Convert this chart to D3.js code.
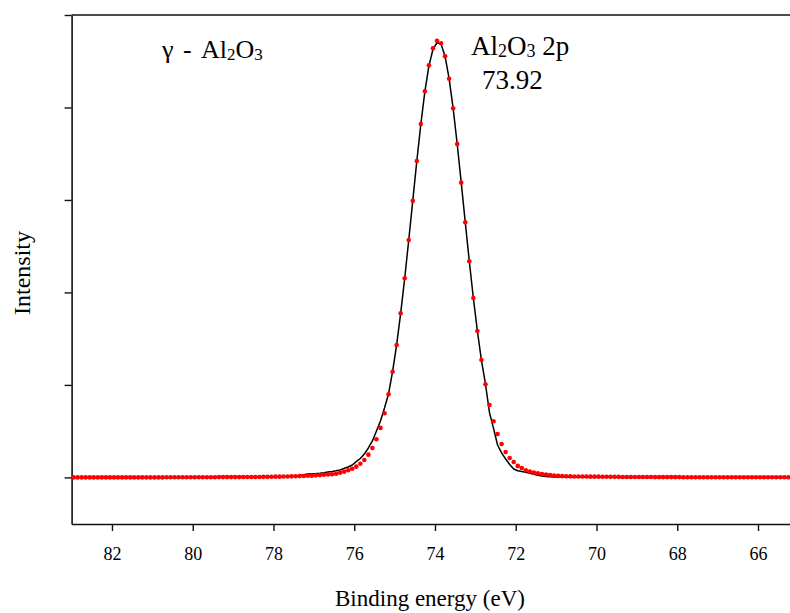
<!DOCTYPE html>
<html>
<head>
<meta charset="utf-8">
<script src="https://cdn.jsdelivr.net/npm/d3@7"></script>
<style>
  html, body { margin: 0; padding: 0; background: #fff; }
  svg { display: block; }
</style>
</head>
<body>
<svg id="chart" width="790" height="613"></svg>
<script>
// Binding energies of the measured points (eV), 0.1 eV steps
const energies = [
  82.95, 82.85, 82.75, 82.65, 82.55, 82.45, 82.35, 82.25, 82.15, 82.05,
  81.95, 81.85, 81.75, 81.65, 81.55, 81.45, 81.35, 81.25, 81.15, 81.05,
  80.95, 80.85, 80.75, 80.65, 80.55, 80.45, 80.35, 80.25, 80.15, 80.05,
  79.95, 79.85, 79.75, 79.65, 79.55, 79.45, 79.35, 79.25, 79.15, 79.05,
  78.95, 78.85, 78.75, 78.65, 78.55, 78.45, 78.35, 78.25, 78.15, 78.05,
  77.95, 77.85, 77.75, 77.65, 77.55, 77.45, 77.35, 77.25, 77.15, 77.05,
  76.95, 76.85, 76.75, 76.65, 76.55, 76.45, 76.35, 76.25, 76.15, 76.05,
  75.95, 75.85, 75.75, 75.65, 75.55, 75.45, 75.35, 75.25, 75.15, 75.05,
  74.95, 74.85, 74.75, 74.65, 74.55, 74.45, 74.35, 74.25, 74.15, 74.05,
  73.95, 73.85, 73.75, 73.65, 73.55, 73.45, 73.35, 73.25, 73.15, 73.05,
  72.95, 72.85, 72.75, 72.65, 72.55, 72.45, 72.35, 72.25, 72.15, 72.05,
  71.95, 71.85, 71.75, 71.65, 71.55, 71.45, 71.35, 71.25, 71.15, 71.05,
  70.95, 70.85, 70.75, 70.65, 70.55, 70.45, 70.35, 70.25, 70.15, 70.05,
  69.95, 69.85, 69.75, 69.65, 69.55, 69.45, 69.35, 69.25, 69.15, 69.05,
  68.95, 68.85, 68.75, 68.65, 68.55, 68.45, 68.35, 68.25, 68.15, 68.05,
  67.95, 67.85, 67.75, 67.65, 67.55, 67.45, 67.35, 67.25, 67.15, 67.05,
  66.95, 66.85, 66.75, 66.65, 66.55, 66.45, 66.35, 66.25, 66.15, 66.05,
  65.95, 65.85, 65.75, 65.65, 65.55, 65.45, 65.35, 65.25
];

// Measured Al 2p intensity (arbitrary units, background removed)
const measured = [
  0, 0, 0, 0, 0, 0, 0, 0, 0, 0,
  0, 0, 0, 0, 0, 0, 0, 0, 0, 0,
  0, 0, 0, 1, 1, 1, 1, 1, 1, 1,
  2, 2, 2, 2, 2, 2, 3, 3, 3, 3,
  3, 3, 4, 4, 4, 5, 5, 6, 6, 7,
  8, 8, 9, 10, 11, 13, 14, 15, 17, 19,
  22, 25, 28, 31, 34, 40, 51, 62, 77, 94,
  116, 148, 188, 246, 318, 412, 535, 694, 899, 1143,
  1432, 1774, 2153, 2567, 2992, 3421, 3821, 4175, 4456, 4640,
  4722, 4694, 4553, 4311, 3991, 3605, 3187, 2758, 2337, 1940,
  1583, 1269, 1007, 783, 607, 469, 361, 275, 210, 167,
  124, 102, 78, 63, 52, 44, 37, 31, 26, 21,
  16, 14, 12, 11, 10, 10, 9, 9, 8, 8,
  8, 7, 7, 6, 6, 6, 5, 5, 5, 4,
  4, 4, 4, 4, 3, 3, 3, 3, 3, 3,
  3, 2, 2, 2, 2, 2, 2, 2, 2, 2,
  2, 2, 1, 1, 1, 1, 1, 1, 1, 1,
  1, 1, 1, 1, 1, 1, 1, 1
];

// Fitted peak envelope on the same energy grid
const fitted = [
  0, 0, 0, 0, 0, 0, 0, 0, 0, 0,
  0, 0, 0, 0, 0, 0, 0, 0, 0, 0,
  0, 0, 0, 0, 0, 0, 0, 0, 0, 0,
  1, 1, 1, 1, 1, 1, 1, 1, 1, 1,
  1, 1, 2, 2, 2, 3, 3, 3, 4, 4,
  4, 5, 6, 9, 12, 15, 21, 30, 37, 39,
  41, 44, 50, 58, 64, 71, 80, 98, 112, 134,
  170, 204, 253, 318, 394, 502, 610, 750, 905, 1143,
  1432, 1774, 2153, 2567, 2992, 3421, 3821, 4175, 4450, 4630,
  4700, 4685, 4553, 4311, 3991, 3605, 3187, 2758, 2337, 1940,
  1583, 1269, 1010, 700, 530, 350, 265, 199, 140, 90,
  72, 64, 55, 44, 33, 22, 15, 10, 7, 5,
  4, 3, 3, 2, 2, 2, 1, 1, 1, 1,
  1, 1, 1, 1, 1, 0, 0, 0, 0, 0,
  0, 0, 0, 0, 0, 0, 0, 0, 0, 0,
  0, 0, 0, 0, 0, 0, 0, 0, 0, 0,
  0, 0, 0, 0, 0, 0, 0, 0, 0, 0,
  0, 0, 0, 0, 0, 0, 0, 0
];

const xTicks = [82, 80, 78, 76, 74, 72, 70, 68, 66];
const yTicks = [0, 1000, 2000, 3000, 4000, 5000];

const serif = "font-family: 'Liberation Serif', 'Times New Roman', Times, serif;";

const svg = d3.select("#chart");

// Reversed binding-energy axis, running off the right edge
const x = d3.scaleLinear().domain([83, 65.2]).range([71.6, 790.3]);
const y = d3.scaleLinear().domain([-504, 5000]).range([524, 15]);

const axisColor = "#111";

// Bottom axis
const gx = svg.append("g")
  .attr("transform", `translate(0,${y(-504)})`)
  .call(d3.axisBottom(x).tickValues(xTicks).tickSize(7).tickSizeOuter(0).tickPadding(16)
    .tickFormat(d3.format("d")))
  .attr("font-family", null);
gx.select(".domain").attr("stroke", axisColor).attr("stroke-width", 1.6);
gx.selectAll(".tick line").attr("stroke", axisColor).attr("stroke-width", 1.4);
gx.selectAll(".tick text")
  .attr("style", serif + " font-size: 18px;")
  .attr("fill", "#000");

// Left axis (unlabelled intensity ticks)
const gy = svg.append("g")
  .attr("transform", `translate(${x(83)},0)`)
  .call(d3.axisLeft(y).tickValues(yTicks).tickSize(7).tickSizeOuter(0).tickFormat(""));
gy.select(".domain").attr("stroke", axisColor).attr("stroke-width", 1.6);
gy.selectAll(".tick line").attr("stroke", axisColor).attr("stroke-width", 1.4);

// Top frame line
svg.append("line")
  .attr("x1", x(83)).attr("x2", 790)
  .attr("y1", y(5000)).attr("y2", y(5000))
  .attr("stroke", axisColor).attr("stroke-width", 1.6);

// Fitted envelope
const fitLine = d3.line()
  .x((d, i) => x(energies[i]))
  .y(d => y(d));
svg.append("path")
  .datum(fitted)
  .attr("d", fitLine)
  .attr("fill", "none")
  .attr("stroke", "#000")
  .attr("stroke-width", 1.5)
  .attr("stroke-linejoin", "round");

// Measured points
svg.append("g")
  .selectAll("circle")
  .data(measured)
  .join("circle")
  .attr("cx", (d, i) => x(energies[i]))
  .attr("cy", d => y(d))
  .attr("r", 2.3)
  .attr("fill", "#ff0000");

// Annotations
function label(xPos, yPos, size) {
  return svg.append("text")
    .attr("x", xPos).attr("y", yPos)
    .attr("style", serif + ` font-size: ${size}px;`)
    .attr("fill", "#000");
}
function sub(t, s, text) {
  t.append("tspan").attr("style", `font-size: ${s}px;`).attr("dy", 2).text(text);
}

// Sample name: γ - Al2O3
const t1 = label(162, 58, 26);
t1.append("tspan").text("γ");
t1.append("tspan").attr("x", 183).text("-");
t1.append("tspan").attr("x", 201).text("Al");
sub(t1, 17, "2");
t1.append("tspan").attr("dy", -2).text("O");
sub(t1, 17, "3");

// Peak assignment and position
const t2 = label(471, 55, 27);
t2.append("tspan").text("Al");
sub(t2, 18, "2");
t2.append("tspan").attr("dy", -2).text("O");
sub(t2, 18, "3");
t2.append("tspan").attr("dy", -2).text(" 2p");

label(482, 89, 27).text("73.92");

// Axis titles
label(430, 606, 23)
  .attr("text-anchor", "middle")
  .text("Binding energy (eV)");

label(0, 0, 24)
  .attr("transform", "translate(29.5,273) rotate(-90)")
  .attr("text-anchor", "middle")
  .text("Intensity");
</script>
</body>
</html>
